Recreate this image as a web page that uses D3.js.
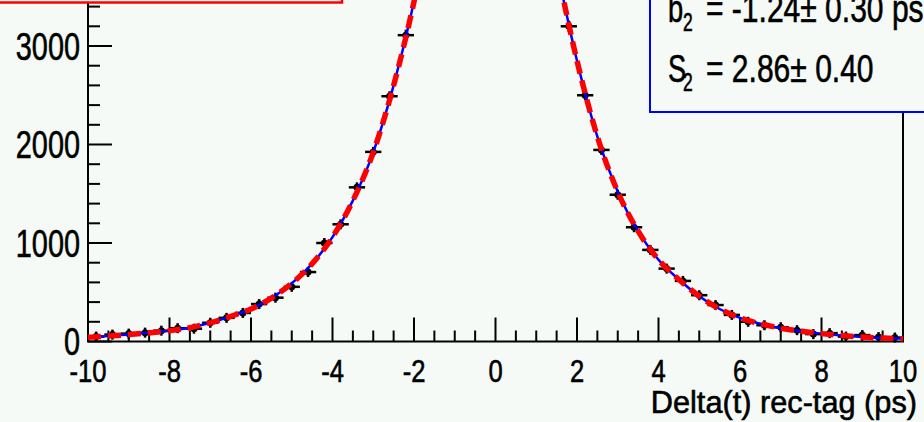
<!DOCTYPE html>
<html><head><meta charset="utf-8">
<script src="https://cdn.jsdelivr.net/npm/d3@7"></script>
<style>
html,body{margin:0;padding:0;background:#f5faf7;}
svg{display:block;}
text{font-family:"Liberation Sans",Arial,sans-serif;fill:#000;stroke:#000;stroke-width:0.6px;}
</style></head>
<body>
<svg id="c" width="924" height="422"></svg>
<script>
// ---- data ----
const binCenters = [-9.8,-9.4,-9.0,-8.6,-8.2,-7.8,-7.4,-7.0,-6.6,-6.2,-5.8,-5.4,-5.0,-4.6,-4.2,-3.8,-3.4,-3.0,-2.6,-2.2,
  -1.8,-1.4,-1.0,-0.6,-0.2,0.2,0.6,1.0,1.4,
  1.8,2.2,2.6,3.0,3.4,3.8,4.2,4.6,5.0,5.4,5.8,6.2,6.6,7.0,7.4,7.8,8.2,8.6,9.0,9.4,9.8];
const counts = [50,70,80,90,110,135,130,190,240,290,380,445,555,705,1000,1190,1565,1925,2490,3110,
  3900,4800,5600,6200,6400,6100,5500,4700,3950,
  3200,2500,1945,1490,1160,930,740,615,470,370,270,200,165,145,115,75,85,50,65,45,40];
const binHalfWidth = 0.2;
const fitX = [-10,-9.5,-9,-8.5,-8,-7.5,-7,-6.5,-6,-5.5,-5,-4.5,-4,-3.5,-3,-2.5,-2,-1.5,-1,-0.5,0,
  0.5,1,1.5,2,2.5,3,3.5,4,4.5,5,5.5,6,6.5,7,7.5,8,8.5,9,9.5,10];
const fitY = [42,55,70,88,110,140,190,255,330,440,590,790,1060,1430,1920,2600,3450,4500,5500,6200,6300,
  5800,4800,3800,2850,2080,1520,1120,830,630,460,330,240,180,135,105,80,60,45,35,28];
const xMajorTicks = [-10,-8,-6,-4,-2,0,2,4,6,8,10];
const xMajorLabels = ["-10","-8","-6","-4","-2","0","2","4","6","8","10"];
const yMajorTicks = [0,1000,2000,3000];
const yMajorLabels = ["0","1000","2000","3000"];
const xTitle = "Delta(t) rec-tag (ps)";
const statLines = [
  {name:"b", sub:"2", rest:"= -1.24\u00b1 0.30 ps"},
  {name:"S", sub:"2", rest:"= 2.86\u00b1 0.40"}
];

// ---- layout ----
const svg = d3.select("#c");
const W = 924, H = 422;
const x = d3.scaleLinear().domain([-10,10]).range([88,903]);
const y = d3.scaleLinear().domain([0,4000]).range([341.5,-52.5]);

svg.append("rect").attr("width",W).attr("height",H).attr("fill","#f5faf7");

// frame
svg.append("rect").attr("x",x(-10)).attr("y",y(4000)).attr("width",x(10)-x(-10)).attr("height",y(0)-y(4000))
  .attr("fill","none").attr("stroke","#000").attr("stroke-width",2);

// x ticks
const xMinor = d3.range(-10,10.001,0.5).filter(v=>Math.abs(v/2-Math.round(v/2))>1e-6);
svg.append("g").selectAll("line").data(xMinor).join("line")
  .attr("x1",d=>x(d)).attr("x2",d=>x(d)).attr("y1",y(0)).attr("y2",y(0)-11)
  .attr("stroke","#000").attr("stroke-width",2);
svg.append("g").selectAll("line").data(xMajorTicks).join("line")
  .attr("x1",d=>x(d)).attr("x2",d=>x(d)).attr("y1",y(0)).attr("y2",y(0)-24)
  .attr("stroke","#000").attr("stroke-width",2);
svg.append("g").selectAll("text").data(xMajorTicks).join("text")
  .attr("transform",d=>`translate(${x(d)},382) scale(0.8,1)`)
  .attr("text-anchor","middle").attr("font-size",32)
  .text((d,i)=>xMajorLabels[i]);

// y ticks
const yMinor = d3.range(0,4001,200).filter(v=>v%1000!==0);
svg.append("g").selectAll("line").data(yMinor).join("line")
  .attr("x1",x(-10)).attr("x2",x(-10)+12).attr("y1",d=>y(d)).attr("y2",d=>y(d))
  .attr("stroke","#000").attr("stroke-width",2);
svg.append("g").selectAll("line").data(yMajorTicks).join("line")
  .attr("x1",x(-10)).attr("x2",x(-10)+24).attr("y1",d=>y(d)).attr("y2",d=>y(d))
  .attr("stroke","#000").attr("stroke-width",2);
svg.append("g").selectAll("text").data(yMajorTicks).join("text")
  .attr("transform",d=>`translate(80,${y(d)+13.5}) scale(0.76,1)`)
  .attr("text-anchor","end").attr("font-size",38)
  .text((d,i)=>yMajorLabels[i]);

// axis title
svg.append("text").attr("transform","translate(917,413) scale(0.96,1)")
  .attr("text-anchor","end").attr("font-size",32).text(xTitle);

// data points with error bars
const pts = svg.append("g");
const data = binCenters.map((c,i)=>({c, n:counts[i]}));
pts.selectAll("line.h").data(data).join("line").attr("class","h")
  .attr("x1",d=>x(d.c-binHalfWidth)).attr("x2",d=>x(d.c+binHalfWidth))
  .attr("y1",d=>y(d.n)).attr("y2",d=>y(d.n)).attr("stroke","#000").attr("stroke-width",2.5);
pts.selectAll("line.v").data(data).join("line").attr("class","v")
  .attr("x1",d=>x(d.c)).attr("x2",d=>x(d.c))
  .attr("y1",d=>Math.min(y(d.n+Math.sqrt(d.n)), y(d.n)-5))
  .attr("y2",d=>Math.max(y(d.n-Math.sqrt(d.n)), y(d.n)+5))
  .attr("stroke","#000").attr("stroke-width",2.5);
pts.selectAll("circle").data(data).join("circle")
  .attr("cx",d=>x(d.c)).attr("cy",d=>y(d.n)).attr("r",3.5).attr("fill","#000");

// fit curves
const fit = fitX.map((v,i)=>[v,fitY[i]]);
const line = d3.line().x(d=>x(d[0])).y(d=>y(d[1])).curve(d3.curveMonotoneX);
svg.append("path").attr("d",line(fit)).attr("fill","none").attr("stroke","#0000ff").attr("stroke-width",2.5);
svg.append("path").attr("d",line(fit)).attr("fill","none").attr("stroke","#ff0000").attr("stroke-width",5.5)
  .attr("stroke-dasharray","13,7");

// legend box (red, top-left, mostly off-canvas)
svg.append("rect").attr("x",-10).attr("y",-100).attr("width",352).attr("height",102.5)
  .attr("fill","#f5faf7").attr("stroke","#ff0000").attr("stroke-width",2.5);

// stats box (blue, top-right)
svg.append("rect").attr("x",650).attr("y",-100).attr("width",300).attr("height",212)
  .attr("fill","#f5faf7").attr("stroke","#0000ff").attr("stroke-width",2);
const stats = svg.append("g");
statLines.forEach((s,i)=>{
  const base = 22 + i*60;
  stats.append("text").attr("transform",`translate(668,${base}) scale(0.7,1)`).attr("font-size",39).text(s.name);
  stats.append("text").attr("transform",`translate(683,${base+9}) scale(0.7,1)`).attr("font-size",25).text(s.sub);
  stats.append("text").attr("transform",`translate(706,${base}) scale(0.77,1)`).attr("font-size",39).text(s.rest);
});
</script>
</body></html>
